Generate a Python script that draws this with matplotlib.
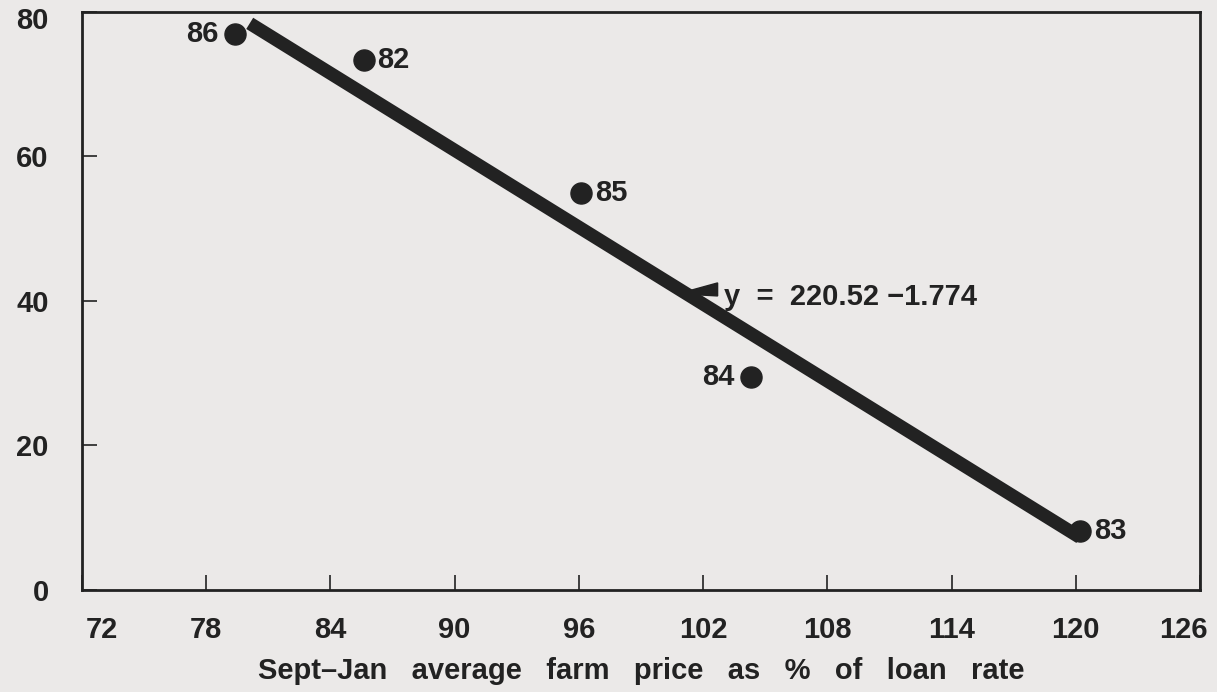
import numpy as np
import matplotlib
matplotlib.use("Agg")
from matplotlib import pyplot as plt
from matplotlib.transforms import ScaledTranslation

# years and their observed values
years = ["86", "82", "85", "84", "83"]
price_pct = [79.4, 85.6, 96.1, 104.3, 120.2]
carryover = [76.9, 73.3, 54.9, 29.5, 8.2]

# fitted line y = 220.52 - 1.774 x
intercept = 220.52
slope = -1.774
fit_x = [80.1, 120.2]

x_ticks = [72, 78, 84, 90, 96, 102, 108, 114, 120, 126]
y_ticks = [0, 20, 40, 60, 80]

bg = "#ebe9e8"
ink = "#222222"
fs = 21

plt.rcParams["font.family"] = ["Liberation Sans", "DejaVu Sans"]
plt.rcParams["font.weight"] = "bold"
plt.rcParams["axes.labelweight"] = "bold"

fig = plt.figure(figsize=(12.17, 6.92), dpi=100, facecolor=bg)
ax = fig.add_axes([0.0674, 0.1474, 0.9186, 0.8353], facecolor=bg)

fx = np.array(fit_x)
ax.plot(fx, intercept + slope * fx, color=ink, linewidth=9.5, solid_capstyle="butt", zorder=2)
ax.scatter(price_pct, carryover, s=230, color=ink, zorder=3)

# point labels: left or right of the dot
label_side = {"86": "left", "82": "right", "85": "right", "84": "left", "83": "right"}
for yr, px, py in zip(years, price_pct, carryover):
    if label_side[yr] == "left":
        ax.annotate(yr, (px, py), xytext=(-12, 0), textcoords="offset points",
                    ha="right", va="center", fontsize=fs, color=ink)
    else:
        ax.annotate(yr, (px, py), xytext=(10, 0), textcoords="offset points",
                    ha="left", va="center", fontsize=fs, color=ink)

# equation label with small wedge pointing at the line
wedge = np.array([[100.8, 41.0], [102.7, 42.5], [102.7, 40.7]])
ax.fill(wedge[:, 0], wedge[:, 1], color=ink, zorder=3)
ax.text(103.0, 40.6, "y  =  220.52 \u22121.774", fontsize=fs, color=ink,
        ha="left", va="center")

ax.set_xlim(72, 126)
ax.set_ylim(0, 80)
ax.set_xticks(x_ticks)
ax.set_yticks(y_ticks)
ax.tick_params(direction="in", length=11, width=1.2, colors=ink, labelsize=fs)
ax.tick_params(axis="x", pad=19)
ax.tick_params(axis="y", pad=24)
for s in ax.spines.values():
    s.set_linewidth(2)
    s.set_color(ink)

# edge labels sit a little inward in the original
xl = ax.get_xticklabels()
xl[0].set_transform(xl[0].get_transform() + ScaledTranslation(0.2, 0, fig.dpi_scale_trans))
xl[-1].set_transform(xl[-1].get_transform() + ScaledTranslation(-0.17, 0, fig.dpi_scale_trans))
yl = ax.get_yticklabels()
yl[-1].set_transform(yl[-1].get_transform() + ScaledTranslation(0, -0.06, fig.dpi_scale_trans))

ax.set_xlabel("Sept\u2013Jan   average   farm   price   as   %   of   loan   rate",
              fontsize=fs, color=ink, labelpad=9)

fig.savefig("out.png", dpi=100, facecolor=bg)
